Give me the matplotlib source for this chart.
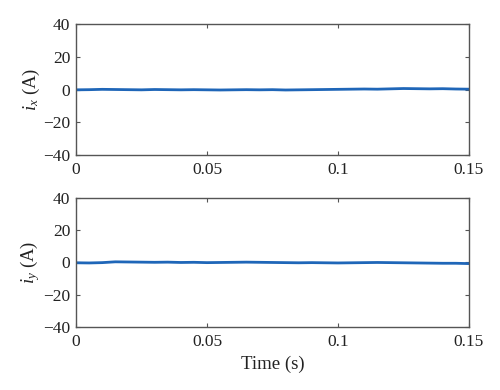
import matplotlib
matplotlib.use("Agg")
import matplotlib.pyplot as plt
import numpy as np

# time samples (s) and currents (A)
time = [0.0, 0.005, 0.01, 0.015, 0.02, 0.025, 0.03, 0.035, 0.04, 0.045,
        0.05, 0.055, 0.06, 0.065, 0.07, 0.075, 0.08, 0.085, 0.09, 0.095,
        0.1, 0.105, 0.11, 0.115, 0.12, 0.125, 0.13, 0.135, 0.14, 0.145, 0.15]
ix = [-0.2, -0.1, 0.1, 0.0, -0.1, -0.2, 0.0, -0.1, -0.2, -0.1,
      -0.2, -0.3, -0.2, -0.1, -0.2, -0.1, -0.3, -0.2, -0.1, 0.0,
      0.1, 0.2, 0.3, 0.2, 0.4, 0.6, 0.5, 0.4, 0.5, 0.3, 0.2]
iy = [-0.2, -0.3, -0.1, 0.4, 0.3, 0.2, 0.1, 0.2, 0.0, 0.1,
      -0.1, 0.0, 0.1, 0.2, 0.1, 0.0, -0.1, -0.2, -0.1, -0.2,
      -0.3, -0.2, -0.1, 0.0, -0.1, -0.2, -0.3, -0.4, -0.5, -0.5, -0.7]

xticks = [0, 0.05, 0.1, 0.15]
xticklabels = ["0", "0.05", "0.1", "0.15"]
yticks = [-40, -20, 0, 20, 40]
yticklabels = ["\u221240", "\u221220", "0", "20", "40"]

plt.rcParams['font.family'] = ['Liberation Serif', 'DejaVu Serif']
plt.rcParams['mathtext.fontset'] = 'custom'
plt.rcParams['mathtext.it'] = 'Liberation Serif:italic'
plt.rcParams['mathtext.rm'] = 'Liberation Serif'

fig = plt.figure(figsize=(5, 3.9), dpi=100)
ax1 = fig.add_axes([0.152, 0.603, 0.786, 0.335])
ax2 = fig.add_axes([0.152, 0.162, 0.786, 0.330])

line_color = "#1f66b8"
edge = "#555555"

for ax, y, lab in [(ax1, ix, r"$i_x$ (A)"), (ax2, iy, r"$i_y$ (A)")]:
    ax.plot(time, y, color=line_color, lw=2.0)
    ax.set_xlim(0, 0.15)
    ax.set_ylim(-40, 40)
    ax.set_xticks(xticks)
    ax.set_xticklabels(xticklabels)
    ax.set_yticks(yticks)
    ax.set_yticklabels(yticklabels)
    ax.tick_params(direction="in", top=True, right=True, length=3,
                   width=0.8, color=edge, labelsize=12.5, labelcolor="#222222")
    ax.tick_params(axis="x", pad=5)
    ax.tick_params(axis="y", pad=4)
    for s in ax.spines.values():
        s.set_color(edge)
        s.set_linewidth(1.0)
    ax.set_ylabel(lab, fontsize=13.5, color="#222222", labelpad=1)

ax2.set_xlabel("Time (s)", fontsize=13.5, color="#222222", labelpad=4)

fig.savefig("out.png", dpi=100)
